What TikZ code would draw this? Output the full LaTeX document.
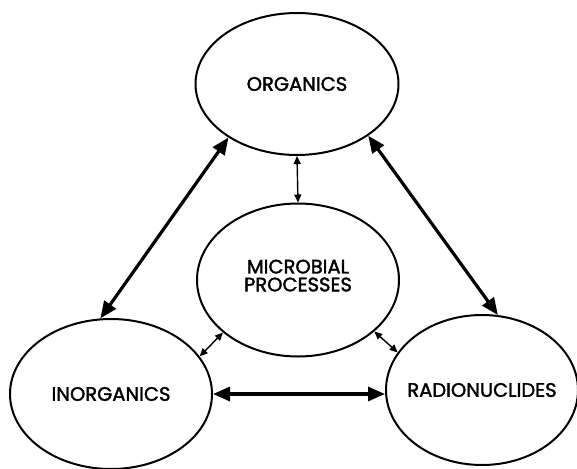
\documentclass[tikz,border=0pt]{standalone}
\usepackage{fontspec}
\setmainfont{Poppins}[FakeBold=1.8]
\usetikzlibrary{shapes.geometric,arrows.meta}
\tikzset{
  blob/.style={draw, ellipse, line width=2pt, inner sep=0pt, align=center,
    font=\fontsize{19.5}{23}\selectfont},
  bigarrow/.style={line width=3.2pt, {Triangle[length=17pt,width=14pt]}-{Triangle[length=17pt,width=14pt]}},
  smallarrow/.style={line width=1.4pt, {Triangle[length=8pt,width=7pt]}-{Triangle[length=8pt,width=7pt]}}
}
\begin{document}
\begin{tikzpicture}[x=1pt,y=-1pt]
\useasboundingbox (0,0) rectangle (577,468);
\node[blob, minimum width=203pt, minimum height=142pt] (org) at (297,84) {\makebox[0pt]{\raisebox{-2pt}{ORGANICS}}};
\node[blob, minimum width=202pt, minimum height=153pt] (mic) at (298,280) {\makebox[0pt]{\raisebox{9pt}{\shortstack{MICROBIAL\\[1pt]PROCESSES}}}};
\node[blob, minimum width=202pt, minimum height=150pt] (inorg) at (111,394) {\makebox[0pt]{INORGANICS}};
\node[blob, minimum width=192pt, minimum height=150pt] (radio) at (482,390) {\makebox[0pt]{RADIONUCLIDES}};
\draw[bigarrow] (org.218) -- (inorg.98);
\draw[bigarrow] (org.324) -- (radio.78);
\draw[bigarrow] (inorg.east) -- (inorg.east -| radio.west);
\draw[smallarrow] (org.south) -- (mic.north);
\draw[smallarrow] (mic.215) -- (inorg.23);
\draw[smallarrow] (mic.326) -- (radio.156);
\end{tikzpicture}
\end{document}
